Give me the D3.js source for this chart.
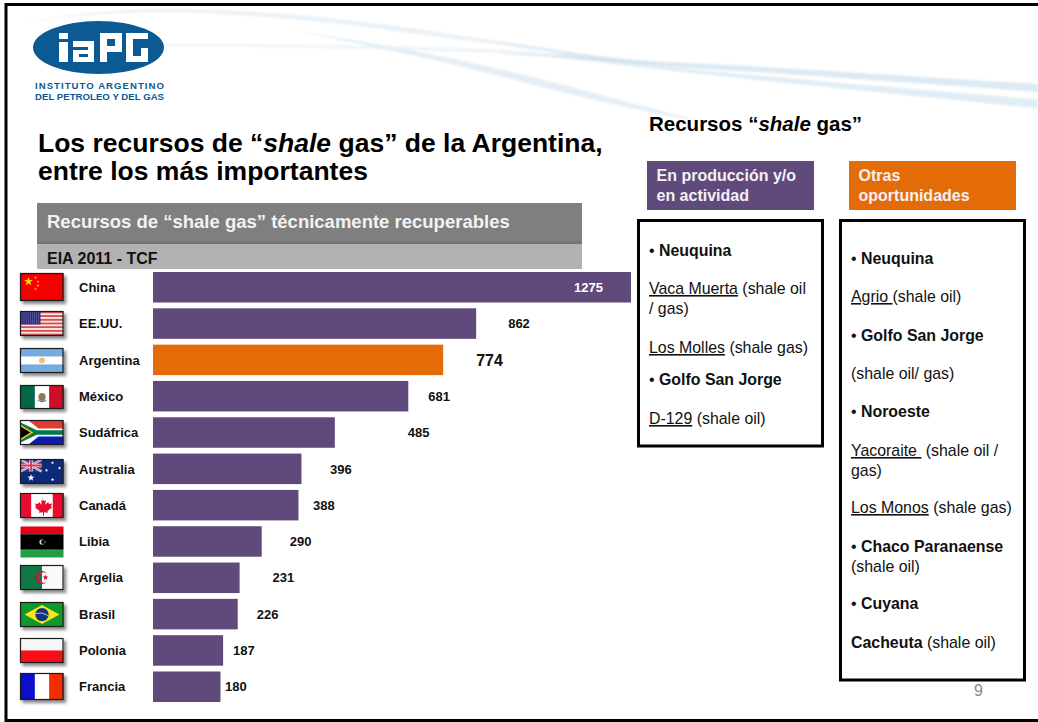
<!DOCTYPE html>
<html lang="es">
<head>
<meta charset="utf-8">
<title>Recursos de shale gas</title>
<script src="https://cdn.jsdelivr.net/npm/d3@7/dist/d3.min.js"></script>
<style>
html,body{margin:0;padding:0;background:#fff}
svg{display:block;font-family:"Liberation Sans",Arial,sans-serif}
</style>
</head>
<body>
<svg id="slide" width="1038" height="722"></svg>
<script>
// Technically recoverable shale gas resources, EIA 2011, in TCF
const countries = ["China","EE.UU.","Argentina","México","Sudáfrica","Australia","Canadá","Libia","Argelia","Brasil","Polonia","Francia"];
const resources = [1275,862,774,681,485,396,388,290,231,226,187,180];
const highlighted = "Argentina";

// Distance from each bar end to its value label (the first one sits inside the bar)
const labelGaps = [-57,32,33,20,73,28.5,14.5,28,33,19,10,4.5];

// Flag box for each row: top edge and height
const flagTops = [273,311,348,385,420,459,493,526,565,602,638,673];
const flagHeights = [27,24,24,23,24,24,24,31,24,24,24,26];

// Right-hand panels: each line is a list of [text, style] runs with a baseline
const producingLines = [
  {y:256, runs:[["• ","b0"],["Neuquina","b"]]},
  {y:294, runs:[["Vaca Muerta","u"],[" (shale oil","r"]]},
  {y:314, runs:[["/ gas)","r"]]},
  {y:353, runs:[["Los Molles","u"],[" (shale gas)","r"]]},
  {y:385, runs:[["• ","b0"],["Golfo San Jorge","b"]]},
  {y:424, runs:[["D-129","u"],[" (shale oil)","r"]]}
];
const otherLines = [
  {y:264, runs:[["• ","b0"],["Neuquina","b"]]},
  {y:302, runs:[["Agrio ","u"],["(shale oil)","r"]]},
  {y:341, runs:[["• ","b0"],["Golfo San Jorge","b"]]},
  {y:379, runs:[["(shale oil/ gas)","r"]]},
  {y:417, runs:[["• ","b0"],["Noroeste","b"]]},
  {y:456, runs:[["Yacoraite ","u"],[" (shale oil /","r"]]},
  {y:476, runs:[["gas)","r"]]},
  {y:513, runs:[["Los Monos","u"],[" (shale gas)","r"]]},
  {y:552, runs:[["• ","b0"],["Chaco Paranaense","b"]]},
  {y:572, runs:[["(shale oil)","r"]]},
  {y:609, runs:[["• ","b0"],["Cuyana","b"]]},
  {y:648, runs:[["Cacheuta","b"],[" (shale oil)","r"]]}
];

const svg = d3.select("#slide");
const defs = svg.append("defs");

const shadow = defs.append("filter").attr("id","flagShadow")
  .attr("x","-20%").attr("y","-20%").attr("width","150%").attr("height","160%");
shadow.append("feDropShadow").attr("dx",2.5).attr("dy",3).attr("stdDeviation",1.6)
  .attr("flood-color","#000").attr("flood-opacity",0.45);
defs.append("filter").attr("id","soft")
  .attr("filterUnits","userSpaceOnUse").attr("x",0).attr("y",0).attr("width",1038).attr("height",140)
  .append("feGaussianBlur").attr("stdDeviation",1.3);

/* ---------- background swooshes: tapered ribbons given as [x, y, thickness] ---------- */
const ribbon = d3.area().curve(d3.curveBasis)
  .x(d => d[0]).y0(d => d[1]-d[2]/2).y1(d => d[1]+d[2]/2);
const bands = [
  {c:"#e9f1f7", p:[[18,24,0],[70,15,1.5],[150,9,3],[250,13,4],[331,20,5],[400,29,5],[463,38,4],[560,52,3],[640,62,1]]},
  {c:"#eff5f9", p:[[20,46,0],[100,45,2],[179,45,3],[300,46,3],[397,48,4],[480,50,4],[560,55,4],[640,62,3]]},
  {c:"#e4eef6", p:[[298,31,0],[390,48,4],[460,63,6],[530,80,8],[600,98,7],[662,113,4],[700,121,0]]},
  {c:"#dde9f3", p:[[500,42,1],[560,52,3],[600,59,5],[640,63,5],[720,67,5],[800,72,6],[920,80,6],[1038,88,8]]},
  {c:"#e1edf5", p:[[500,53,1],[560,56,3],[640,66,3],[720,74,4],[800,82,5],[920,93,7],[1038,104,9]]},
  {c:"#cfe1ed", p:[[540,54,0],[590,58,3],[630,62,3],[670,65,0]]}
];
svg.append("g").attr("filter","url(#soft)").selectAll("path").data(bands).join("path")
  .attr("d", d => ribbon(d.p))
  .attr("fill", d => d.c);

/* ---------- logo ---------- */
const logoBlue = "#0b5a94";
const logo = svg.append("g");
logo.append("ellipse").attr("cx",98.5).attr("cy",47.5).attr("rx",65.5).attr("ry",26.5).attr("fill",logoBlue);
const glyphs =
  // i
  "M59 33h9v6h-9z M59 42h9v20h-9z " +
  // a
  "M73 41h21v21h-21v-12h15v-3h-15z M79 54v3h9v-3z " +
  // P
  "M100 33h22v19h-15v10h-7z M107 39v7h8v-7z " +
  // G
  "M126 33h22v6h-15v17h8v-8h7v14h-22z";
logo.append("path").attr("d",glyphs).attr("fill","#fff").attr("fill-rule","evenodd");
logo.append("text").attr("x",35).attr("y",89).attr("font-size",9.6).attr("font-weight","bold")
  .attr("fill",logoBlue).attr("textLength",129).attr("lengthAdjust","spacing").text("INSTITUTO ARGENTINO");
logo.append("text").attr("x",35).attr("y",100).attr("font-size",9.6).attr("font-weight","bold")
  .attr("fill",logoBlue).attr("textLength",129).attr("lengthAdjust","spacing").text("DEL PETROLEO Y DEL GAS");

/* ---------- slide frame ---------- */
svg.append("path").attr("d","M1038 4.5H6V720.5H1038").attr("fill","none").attr("stroke","#000").attr("stroke-width",3);

/* ---------- titles ---------- */
const mainTitle = svg.append("g").attr("font-weight","bold").attr("font-size",26.5).attr("fill","#000");
const t1 = mainTitle.append("text").attr("x",38).attr("y",152);
t1.append("tspan").text("Los recursos de “");
t1.append("tspan").attr("font-style","italic").text("shale ");
t1.append("tspan").text("gas” de la Argentina,");
mainTitle.append("text").attr("x",38).attr("y",180).text("entre los más importantes");

svg.append("rect").attr("x",37).attr("y",203).attr("width",545).attr("height",41).attr("fill","#7f7f7f");
svg.append("rect").attr("x",37).attr("y",241.5).attr("width",545).attr("height",2.5).attr("fill","#757575");
svg.append("rect").attr("x",37).attr("y",244).attr("width",545).attr("height",25).attr("fill","#b2b2b2");
svg.append("text").attr("x",47).attr("y",228).attr("font-size",18.5).attr("font-weight","bold").attr("fill","#f2f2f2")
  .text("Recursos de “shale gas” técnicamente recuperables");
svg.append("text").attr("x",47).attr("y",264).attr("font-size",16).attr("font-weight","bold").attr("fill","#111")
  .text("EIA 2011 - TCF");

/* ---------- bar chart ---------- */
const x = d3.scaleLinear().domain([0,1275]).range([153,631]);
const y = d3.scaleBand().domain(countries).range([272,702]).paddingInner(0.16);
const rows = countries.map((name,i) => ({name, value:resources[i], gap:labelGaps[i], top:flagTops[i], h:flagHeights[i]}));

svg.append("g").selectAll("rect").data(rows).join("rect")
  .attr("x", x(0))
  .attr("y", d => y(d.name))
  .attr("width", d => x(d.value)-x(0))
  .attr("height", y.bandwidth())
  .attr("fill", d => d.name===highlighted ? "#e36c09" : "#604a7b");

svg.append("g").selectAll("text").data(rows).join("text")
  .attr("x",79)
  .attr("y", d => y(d.name)+y.bandwidth()/2)
  .attr("dy","0.36em")
  .attr("font-size",13).attr("font-weight","bold").attr("fill","#111")
  .text(d => d.name);

svg.append("g").selectAll("text").data(rows).join("text")
  .attr("x", d => x(d.value)+d.gap)
  .attr("y", d => y(d.name)+y.bandwidth()/2)
  .attr("dy","0.36em")
  .attr("font-weight","bold")
  .attr("font-size", d => d.name===highlighted ? 16 : 13)
  .attr("fill", d => d.value===d3.max(resources) ? "#fff" : "#111")
  .text(d => d.value);

/* ---------- flags ---------- */
const FW = 43;
function stripesH(g,h,cols){ cols.forEach((c,i)=>g.append("rect").attr("x",0).attr("y",i*h/cols.length).attr("width",FW).attr("height",h/cols.length+0.3).attr("fill",c)); }
function stripesV(g,h,cols){ cols.forEach((c,i)=>g.append("rect").attr("x",i*FW/cols.length).attr("y",0).attr("width",FW/cols.length+0.3).attr("height",h).attr("fill",c)); }
function star(g,cx,cy,r,c){
  const pts = d3.range(10).map(k=>{const a=-Math.PI/2+k*Math.PI/5,q=k%2?r*0.42:r;return [cx+q*Math.cos(a),cy+q*Math.sin(a)];});
  g.append("polygon").attr("points",pts.join(" ")).attr("fill",c);
}
const flagPainters = {
  "China":(g,h)=>{
    g.append("rect").attr("width",FW).attr("height",h).attr("fill","#f40000");
    star(g,8,8,4.6,"#ffd400");
    [[15,4],[17.5,8],[17.5,12],[15,15.5]].forEach(p=>star(g,p[0],p[1],1.5,"#ffc400"));
  },
  "EE.UU.":(g,h)=>{
    stripesH(g,h,d3.range(13).map(i=>i%2?"#fbe6e6":"#d4504f"));
    g.append("rect").attr("width",20).attr("height",h*0.54).attr("fill","#2a2a80");
    for(let r=0;r<6;r++) for(let c=0;c<9;c++)
      g.append("rect").attr("x",1+c*2.1).attr("y",1+r*2).attr("width",0.8).attr("height",0.8).attr("fill","#a8a8d8");
  },
  "Argentina":(g,h)=>{
    stripesH(g,h,["#74acdf","#ffffff","#74acdf"]);
    g.append("circle").attr("cx",FW/2).attr("cy",h/2).attr("r",3).attr("fill","#f3c27a");
  },
  "México":(g,h)=>{
    stripesV(g,h,["#006847","#ffffff","#ce1126"]);
    g.append("ellipse").attr("cx",FW/2).attr("cy",h/2).attr("rx",3.6).attr("ry",4).attr("fill","#8a7a55");
    g.append("path").attr("d",`M${FW/2-4.5} ${h/2+3}q4.5 3.5 9 0`).attr("fill","none").attr("stroke","#3f7a55").attr("stroke-width",1);
  },
  "Sudáfrica":(g,h)=>{
    g.append("rect").attr("width",FW).attr("height",h/2).attr("fill","#e03c31");
    g.append("rect").attr("y",h/2).attr("width",FW).attr("height",h/2).attr("fill","#0a1fb0");
    g.append("path").attr("d",`M0 0H8L${FW*0.42} ${h*0.33}H${FW}V${h*0.67}H${FW*0.42}L8 ${h}H0Z`).attr("fill","#fff");
    g.append("path").attr("d",`M0 2L${FW*0.38} ${h*0.41}H${FW}V${h*0.59}H${FW*0.38}L0 ${h-2}Z`).attr("fill","#007a4d");
    g.append("path").attr("d",`M0 ${h*0.17}L${FW*0.3} ${h/2}L0 ${h*0.83}Z`).attr("fill","#ffb612");
    g.append("path").attr("d",`M0 ${h*0.25}L${FW*0.23} ${h/2}L0 ${h*0.75}Z`).attr("fill","#000");
  },
  "Australia":(g,h)=>{
    g.append("rect").attr("width",FW).attr("height",h).attr("fill","#0a2a78");
    const w=21,u=h/2;
    g.append("rect").attr("width",w).attr("height",u).attr("fill","#2a3f8f");
    g.append("path").attr("d",`M0 0L${w} ${u}M${w} 0L0 ${u}`).attr("stroke","#f4e8ee").attr("stroke-width",2.4);
    g.append("path").attr("d",`M0 0L${w} ${u}M${w} 0L0 ${u}`).attr("stroke","#d8506a").attr("stroke-width",0.9);
    g.append("path").attr("d",`M${w/2} 0V${u}M0 ${u/2}H${w}`).attr("stroke","#f4e8ee").attr("stroke-width",3.4);
    g.append("path").attr("d",`M${w/2} 0V${u}M0 ${u/2}H${w}`).attr("stroke","#d8304f").attr("stroke-width",1.8);
    star(g,10.5,h*0.76,3.6,"#fff");
    [[32,h*0.14],[39,h*0.36],[26,h*0.45],[32,h*0.84]].forEach(p=>star(g,p[0],p[1],1.8,"#fff"));
  },
  "Canadá":(g,h)=>{
    stripesV(g,h,["#e8112d","#ffffff","#ffffff","#e8112d"]);
    g.append("path").attr("d",`M${FW/2} ${h/2-8}l2 3.5 2-.8-.8 4.5 3-2.8 .8 2 3-.5-1 3.4 1 .7-4.5 3.5 .5 1.8-4-.6v3.5h-1v-3.5l-4 .6 .5-1.8-4.5-3.5 1-.7-1-3.4 3 .5 .8-2 3 2.8-.8-4.5 2 .8z`).attr("fill","#e8112d");
  },
  "Libia":(g,h)=>{
    g.append("rect").attr("y",0).attr("width",FW).attr("height",h*0.25).attr("fill","#e70013");
    g.append("rect").attr("y",h*0.25).attr("width",FW).attr("height",h*0.5).attr("fill","#000");
    g.append("rect").attr("y",h*0.75).attr("width",FW).attr("height",h*0.25).attr("fill","#239e46");
    g.append("circle").attr("cx",FW/2).attr("cy",h/2).attr("r",2.6).attr("fill","#ddd");
    g.append("circle").attr("cx",FW/2+1).attr("cy",h/2).attr("r",2).attr("fill","#000");
    star(g,FW/2+3.2,h/2,1,"#ddd");
  },
  "Argelia":(g,h)=>{
    g.append("rect").attr("width",FW/2).attr("height",h).attr("fill","#0a7a45");
    g.append("rect").attr("x",FW/2).attr("width",FW/2).attr("height",h).attr("fill","#fafafa");
    g.append("circle").attr("cx",FW/2).attr("cy",h/2).attr("r",6.4).attr("fill","#d21034");
    g.append("circle").attr("cx",FW/2+1.8).attr("cy",h/2).attr("r",5.2).attr("fill","#fafafa");
    g.append("path").attr("d",`M${FW/2} ${h/2-5}A5.2 5.2 0 0 0 ${FW/2} ${h/2+5}Z`).attr("fill","#0a7a45");
    star(g,FW/2+3.5,h/2,3,"#d21034");
  },
  "Brasil":(g,h)=>{
    g.append("rect").attr("width",FW).attr("height",h).attr("fill","#079a2a");
    g.append("path").attr("d",`M4 ${h/2}L${FW/2} 2.5L${FW-4} ${h/2}L${FW/2} ${h-2.5}Z`).attr("fill","#f8e61c");
    g.append("circle").attr("cx",FW/2).attr("cy",h/2).attr("r",6.6).attr("fill","#12307a");
    g.append("path").attr("d",`M${FW/2-6.4} ${h/2-1}q6 -2 12.6 2`).attr("fill","none").attr("stroke","#dfe6ee").attr("stroke-width",0.8);
  },
  "Polonia":(g,h)=>stripesH(g,h,["#f6f6f6","#fa0a14"]),
  "Francia":(g,h)=>stripesV(g,h,["#0a10cc","#ffffff","#f22f00"])
};
const flagLayer = svg.append("g");
rows.forEach(d=>{
  const bordered = d.name!=="Libia";
  const g = flagLayer.append("g").attr("transform",`translate(20.5,${d.top+0.5})`)
    .attr("filter", bordered ? "url(#flagShadow)" : null);
  flagPainters[d.name](g,d.h);
  if(bordered) g.append("rect").attr("width",FW-0.5).attr("height",d.h).attr("fill","none").attr("stroke","#1c1c1c").attr("stroke-width",1.2);
});

/* ---------- right-hand panels ---------- */
const rt = svg.append("text").attr("x",649).attr("y",131).attr("font-size",20.5).attr("font-weight","bold").attr("fill","#000");
rt.append("tspan").text("Recursos “");
rt.append("tspan").attr("font-style","italic").text("shale ");
rt.append("tspan").text("gas”");

function tag(xp,color,l1,l2){
  svg.append("rect").attr("x",xp).attr("y",161).attr("width",167).attr("height",49).attr("fill",color);
  svg.append("text").attr("x",xp+9.5).attr("y",181).attr("font-size",16).attr("font-weight","bold").attr("fill","#f4f0f4").text(l1);
  svg.append("text").attr("x",xp+9.5).attr("y",201).attr("font-size",16).attr("font-weight","bold").attr("fill","#f4f0f4").text(l2);
}
tag(647,"#604a7b","En producción y/o","en actividad");
tag(849,"#e36c09","Otras","oportunidades");

function panel(px,top,bottom,lines){
  svg.append("rect").attr("x",px).attr("y",top).attr("width",184).attr("height",bottom-top)
    .attr("fill","#fff").attr("stroke","#000").attr("stroke-width",3);
  const tx = px+10.5;
  svg.append("g").selectAll("text").data(lines).join("text")
    .attr("x",tx).attr("y",d=>d.y).attr("font-size",15.9).attr("fill","#111")
    .style("white-space","pre")
    .each(function(d){
      const node = d3.select(this);
      d.runs.forEach(([txt,st])=>{
        const s = node.append("tspan").text(txt);
        if(st==="b") s.attr("font-weight","bold");
        if(st==="u") s.attr("text-decoration","underline");
      });
    });
}
panel(638.5,220.5,446,producingLines);
panel(840.5,220.5,680,otherLines);

svg.append("text").attr("x",974).attr("y",696).attr("font-size",16).attr("fill","#8b8b8b").text("9");
</script>
</body>
</html>
